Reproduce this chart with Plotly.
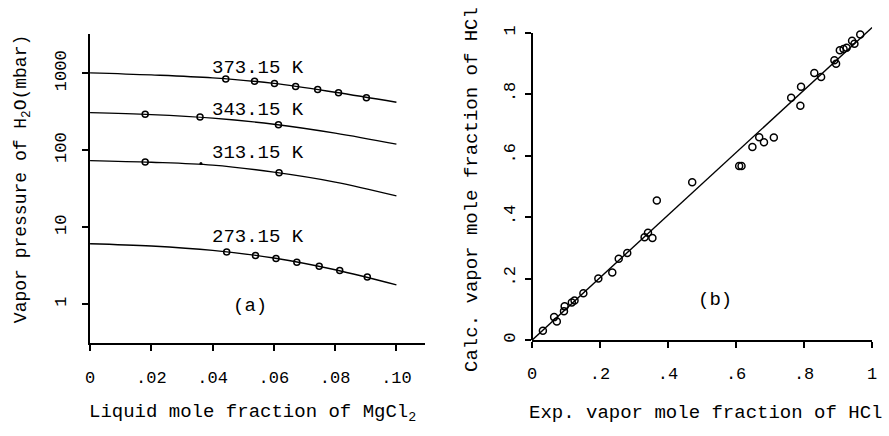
import plotly.graph_objects as go

# ---------------- Panel (a) data ----------------
x_curve = [0.0, 0.02, 0.04, 0.06, 0.08, 0.10]
p373_curve = [1013, 952, 870, 738, 567, 420]
p343_curve = [308, 290, 261, 218, 167, 120]
p313_curve = [73.4, 69.8, 64.0, 51.9, 38.6, 25.5]
p273_curve = [6.11, 5.7, 5.0, 3.98, 2.8, 1.78]

x373 = [0.0443, 0.0537, 0.0602, 0.0671, 0.0743, 0.0811, 0.0902]
y373 = [845, 789, 736, 674, 616, 557, 481]
x343 = [0.018, 0.0359, 0.0615]
y343 = [293, 271, 214]
x313 = [0.018, 0.0617]
y313 = [70.6, 51.0]
x313_dot = [0.0362]
y313_dot = [67.2]
x273 = [0.0446, 0.0540, 0.0607, 0.0675, 0.0748, 0.0815, 0.0905]
y273 = [4.77, 4.28, 3.92, 3.51, 3.12, 2.75, 2.25]

curve_labels = ["373.15 K", "343.15 K", "313.15 K", "273.15 K"]

xa_ticks = [0, 0.02, 0.04, 0.06, 0.08, 0.10]
xa_text = ["0", ".02", ".04", ".06", ".08", ".10"]
ya_ticks = [1, 10, 100, 1000]
ya_text = ["1", "10", "100", "1000"]

# ---------------- Panel (b) data ----------------
x_exp = [0.032, 0.065, 0.073, 0.094, 0.096, 0.117, 0.125, 0.151, 0.195, 0.236,
         0.255, 0.280, 0.331, 0.341, 0.354, 0.367, 0.471, 0.609, 0.616, 0.648,
         0.668, 0.682, 0.711, 0.762, 0.789, 0.791, 0.830, 0.850, 0.889, 0.894,
         0.905, 0.916, 0.925, 0.941, 0.948, 0.965]
y_calc = [0.031, 0.075, 0.061, 0.094, 0.110, 0.123, 0.129, 0.153, 0.201, 0.220,
          0.265, 0.284, 0.335, 0.350, 0.333, 0.455, 0.514, 0.567, 0.567, 0.629,
          0.661, 0.644, 0.660, 0.789, 0.763, 0.825, 0.870, 0.857, 0.911, 0.900,
          0.944, 0.948, 0.952, 0.975, 0.965, 0.995]
diag_x = [0.0, 1.0]
diag_y = [0.0, 1.018]

xb_ticks = [0, 0.2, 0.4, 0.6, 0.8, 1.0]
xb_text = ["0", ".2", ".4", ".6", ".8", "1"]
yb_ticks = [0, 0.2, 0.4, 0.6, 0.8, 1.0]
yb_text = ["0", ".2", ".4", ".6", ".8", "1"]

FONT = "Liberation Mono, Courier New, monospace"
W, H = 889, 436

fig = go.Figure()

line_style = dict(color="black", width=1.4, shape="spline")
mk_a = dict(symbol="circle-open", size=6, color="black", line=dict(width=1.5, color="black"))

for yc in [p373_curve, p343_curve, p313_curve, p273_curve]:
    fig.add_trace(go.Scatter(x=x_curve, y=yc, mode="lines", line=line_style,
                             xaxis="x", yaxis="y", showlegend=False, hoverinfo="skip"))
for xs, ys in [(x373, y373), (x343, y343), (x313, y313), (x273, y273)]:
    fig.add_trace(go.Scatter(x=xs, y=ys, mode="markers", marker=mk_a,
                             xaxis="x", yaxis="y", showlegend=False))
fig.add_trace(go.Scatter(x=x313_dot, y=y313_dot, mode="markers",
                         marker=dict(symbol="circle", size=3, color="black"),
                         xaxis="x", yaxis="y", showlegend=False))

fig.add_trace(go.Scatter(x=diag_x, y=diag_y, mode="lines",
                         line=dict(color="black", width=1.4),
                         xaxis="x2", yaxis="y2", showlegend=False, hoverinfo="skip"))
fig.add_trace(go.Scatter(x=x_exp, y=y_calc, mode="markers",
                         marker=dict(symbol="circle-open", size=7, color="black",
                                     line=dict(width=1.5, color="black")),
                         xaxis="x2", yaxis="y2", showlegend=False))

tickfont = dict(family=FONT, size=17, color="black")
common = dict(showgrid=False, zeroline=False, ticks="outside", ticklen=6, tickwidth=1.5,
              tickcolor="black", tickfont=tickfont)

fig.update_layout(
    width=W, height=H, margin=dict(l=0, r=0, t=0, b=0),
    paper_bgcolor="white", plot_bgcolor="white",
    font=dict(family=FONT, size=18, color="black"),
    xaxis=dict(domain=[86 / W, 425 / W], range=[0, 0.1094], tickvals=xa_ticks,
               ticktext=xa_text, showline=True, linecolor="black", linewidth=2,
               anchor="y", ticklabelstandoff=12, **common),
    yaxis=dict(domain=[(H - 345) / H, (H - 33) / H], type="log", range=[-0.502, 3.514],
               tickvals=ya_ticks, ticktext=ya_text, tickangle=-90, showline=True,
               linecolor="black", linewidth=2, anchor="x", ticklabelstandoff=9, **common),
    xaxis2=dict(domain=[533 / W, 877 / W], range=[0, 1.0], tickvals=xb_ticks,
                ticktext=xb_text, showline=True, linecolor="black", linewidth=2,
                anchor="y2", ticklabelstandoff=10, **common),
    yaxis2=dict(domain=[(H - 342.3) / H, (H - 26.1) / H], range=[0, 1.02],
                tickvals=yb_ticks, ticktext=yb_text, tickangle=-90, showline=False,
                anchor="x2", ticklabelstandoff=3, **common),
)

# right y-axis line drawn only up to 1
fig.add_shape(type="line", xref="x2 domain", yref="y2", x0=0, x1=0, y0=0, y1=1,
              line=dict(color="black", width=2))


def note(text, px, py, size=19, angle=0):
    fig.add_annotation(text=text, x=px / W, y=1 - py / H, xref="paper", yref="paper",
                       showarrow=False, xanchor="center", yanchor="middle",
                       textangle=angle, font=dict(family=FONT, size=size, color="black"))


label_pos = [(256, 68), (256, 110), (256, 153), (256, 238)]
for txt, (px, py) in zip(curve_labels, label_pos):
    note(txt, px, py)

note("(a)", 248, 308)
note("(b)", 718, 302)
note("Liquid mole fraction of MgCl<sub>2</sub>", 250, 416)
note("Exp. vapor mole fraction of HCl", 708, 416)
note("Vapor pressure of H<sub>2</sub>O(mbar)", 18, 180, size=18, angle=-90)
note("Calc. vapor mole fraction of HCl", 473, 190, angle=-90)

fig.write_html("out.html", config={"displayModeBar": False},
               post_script="document.body.style.margin='0';")
